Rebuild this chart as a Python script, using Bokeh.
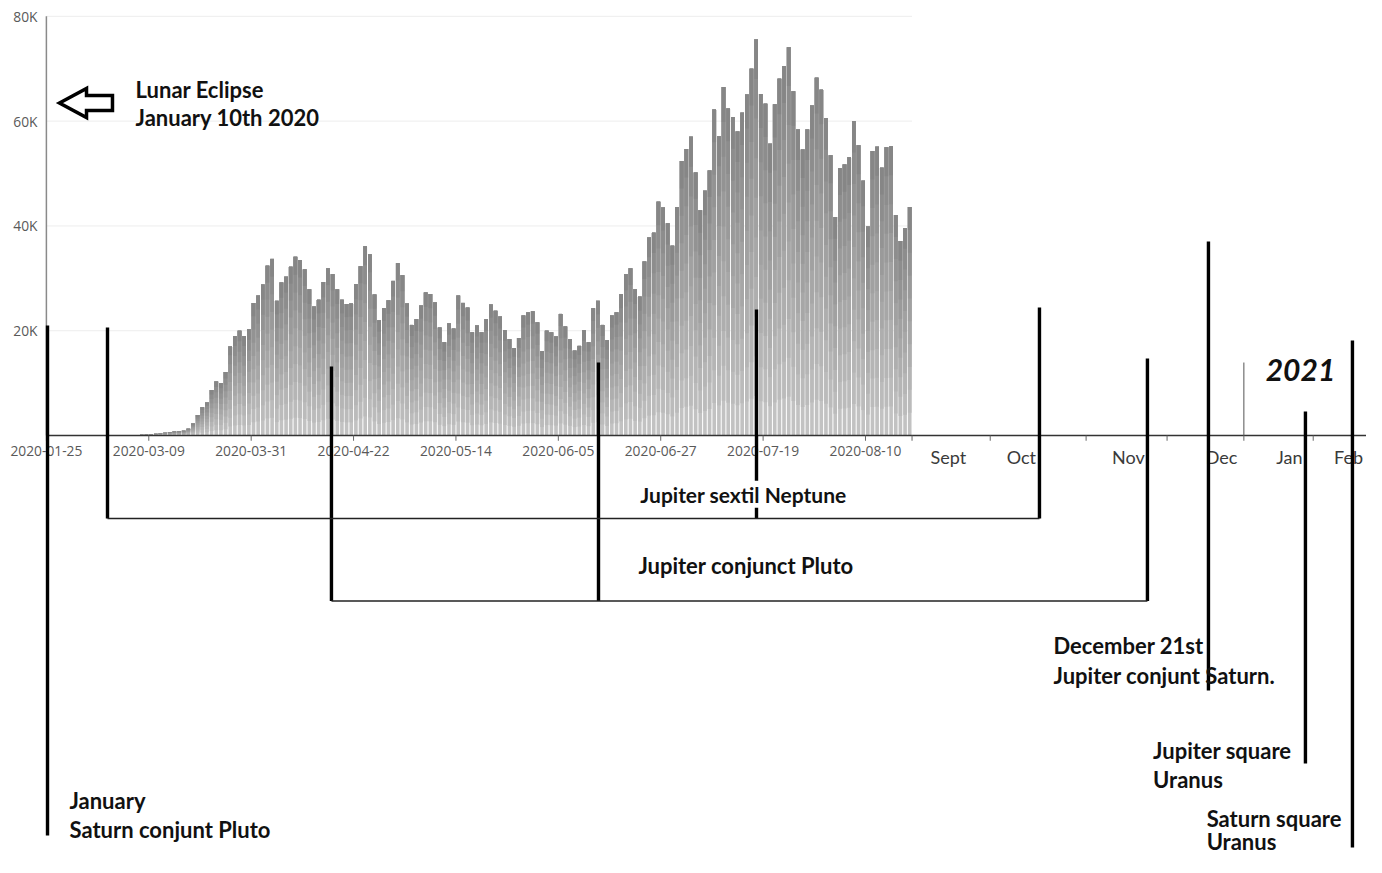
import numpy as np
from bokeh.plotting import figure
from bokeh.models import Range1d, ColumnDataSource
from bokeh.core.properties import value
from bokeh.embed import file_html
from bokeh.resources import INLINE

# ---------------- data ----------------
tick_labels = ["2020-01-25", "2020-03-09", "2020-03-31", "2020-04-22", "2020-05-14",
               "2020-06-05", "2020-06-27", "2020-07-19", "2020-08-10"]
tick_every = 22          # categories between labelled ticks
n_categories = 186       # categories on the daily axis
first_bar = 19           # first category that carries a bar

# daily values, thousands
cases_k = [
    0.1, 0.15, 0.2, 0.25, 0.35, 0.45, 0.55, 0.65, 0.75, 0.8, 0.9, 1.3,
    2.3,
    3.9, 5.4, 6.3, 8.7, 10.3, 10.0, 12.1, 17.0, 19.0, 20.0, 19.0, 20.3, 25.3, 26.7,
    28.8, 32.4, 33.7, 25.7, 29.2, 30.3, 32.2, 34.1, 33.5, 31.7, 27.9, 24.6, 25.9,
    29.3, 31.9, 30.8, 27.9, 25.9, 25.1, 25.2, 28.9, 32.3, 36.1, 34.6, 26.9, 22.0,
    24.3, 25.8, 29.5, 32.9, 30.6, 25.2, 21.1, 22.2, 24.8, 27.3, 27.0, 25.4,
    20.6, 17.8, 21.4, 20.4, 26.7, 25.3, 24.4, 19.7, 21.0, 19.7,
    22.2, 25.0, 23.8, 22.7, 20.1, 18.4, 16.7, 18.6, 22.9, 23.5,
    23.7, 21.6, 16.1, 20.0, 19.7, 18.9, 23.2, 20.8, 18.4, 16.2,
    17.1, 20.1, 17.8, 24.3, 25.7, 21.1, 18.2, 22.9, 23.5, 27.0,
    30.8, 31.9, 27.9, 26.5, 33.2, 37.8, 38.7, 44.6, 43.5, 40.5,
    36.2, 43.6, 52.4, 54.7, 57.0, 50.2, 43.0, 46.7, 50.6, 62.2,
    57.1, 66.5, 62.4, 60.8, 58.0, 61.6, 65.1, 70.0, 75.6, 65.2,
    63.3, 55.7, 63.2, 68.1, 70.5, 74.1, 65.7, 58.4, 54.6, 58.4,
    63.0, 68.3, 66.0, 60.6, 53.5, 41.7, 51.0, 51.7, 53.1, 60.0,
    55.4, 48.6, 39.9, 54.3, 55.1, 51.1, 55.0, 55.2, 42.1, 37.1, 39.6, 43.6,
]

y_ticks = [20000, 40000, 60000, 80000]
y_tick_labels = ["20K", "40K", "60K", "80K"]

month_labels = ["Sept", "Oct", "Nov", "Dec", "Jan", "Feb"]
year_label = "2021"

# ---------------- annotation layout (axis units: category, value) ----------------
month_label_x = [193.8, 209.5, 232.5, 252.5, 267.1, 279.8]
month_tick_x = [202.8, 223.4, 240.8, 257.3, 272.2]
axis_end = 283.7
year_sep_x, year_sep_top = 257.3, 13930

# vertical event lines: (x, top, bottom)
event_lines = [
    (0.24, 21000, -76340),      # Saturn conjunct Pluto
    (13.13, 20600, -15840),     # Jupiter sextil Neptune bracket
    (152.58, 24050, -15840),
    (213.38, 24430, -15840),
    (61.25, 13170, -31590),     # Jupiter conjunct Pluto bracket
    (118.63, 13930, -31590),
    (236.58, 14690, -31590),
    (249.69, 37020, -48660),    # Jupiter conjunct Saturn
    (270.53, 4580, -62600),     # Jupiter square Uranus
    (280.63, 18130, -78630),    # Saturn square Uranus
]
# horizontal bracket lines: (x0, x1, y)
bracket_lines = [(13.13, 213.38, -15840), (61.25, 236.58, -31590)]

notes = ["Lunar Eclipse", "January 10th 2020", "Jupiter conjunct Pluto",
         "December 21st", "Jupiter conjunt Saturn.", "Jupiter square", "Uranus",
         "Saturn square", "Uranus", "January", "Saturn conjunt Pluto"]
notes_x = [19.17, 19.17, 127.2, 216.4, 216.4, 237.8, 237.8, 249.3, 249.3, 4.96, 4.96]
notes_y = [64560, 59160, -26430, -41600, -47330, -61700, -67100, -74600, -79000, -71180, -76720]
sextil_note = "Jupiter sextil Neptune"
sextil_xy = (127.4, -12690)

arrow_x = [2.81, 8.62, 8.62, 14.2, 14.2, 8.62, 8.62]
arrow_y = [63450, 66220, 64890, 64890, 62020, 62020, 60690]

# ---------------- figure ----------------
p = figure(width=1366, height=857, x_range=Range1d(-9.862, 283.65),
           y_range=Range1d(-80530, 83020), x_axis_type=None, y_axis_type=None,
           toolbar_location=None, output_backend="svg", min_border=0, title=None)
p.outline_line_color = None
p.background_fill_color = "white"
p.border_fill_color = "white"

# grid lines
p.segment(x0=[0] * len(y_ticks), x1=[n_categories] * len(y_ticks), y0=y_ticks, y1=y_ticks,
          line_color="#ededed", line_width=1)
# left value axis line
p.segment(x0=[0], x1=[0], y0=[0], y1=[max(y_ticks)], line_color="#8a8a8a", line_width=1.5)

# bars with vertical gradient (light bottom, dark top)
vals = np.array(cases_k) * 1000.0
xs = first_bar + np.arange(len(vals)) + 0.5
N = 10
c0 = np.array([0xc2, 0xc2, 0xc2])
c1 = np.array([0x86, 0x86, 0x86])
for k in range(N):
    t = k / (N - 1)
    c = (c0 + (c1 - c0) * t).round().astype(int)
    col = "#%02x%02x%02x" % tuple(c)
    src = ColumnDataSource(dict(x=xs, bottom=vals * k / N, top=vals))
    p.vbar(x="x", width=0.78, bottom="bottom", top="top", source=src,
           fill_color=col, line_color=None)

# category axis line + ticks
p.segment(x0=[0], x1=[axis_end], y0=[0], y1=[0], line_color="#333333", line_width=1.3)
tick_pos = [i * tick_every for i in range(len(tick_labels))] + [n_categories] + month_tick_x
p.segment(x0=tick_pos, x1=tick_pos, y0=[0] * len(tick_pos), y1=[-1000] * len(tick_pos),
          line_color="#666666", line_width=1)

# date labels
p.text(x=[i * tick_every for i in range(len(tick_labels))], y=[-4000] * len(tick_labels),
       text=tick_labels, text_font=value("Open Sans"), text_font_size=value("13.8px"),
       text_color="#595959", text_align="center", text_baseline="alphabetic", y_offset=-5.1)
# value labels
p.text(x=[-1.91] * len(y_ticks), y=y_ticks, text=y_tick_labels, text_font=value("Open Sans"),
       text_font_size=value("13.8px"), text_color="#595959", text_align="right",
       text_baseline="middle")
# month labels
p.text(x=month_label_x, y=[-5340] * len(month_labels), text=month_labels,
       text_font=value("Lato"), text_font_size=value("18px"), text_color="#3a3a3a",
       text_align="center", text_baseline="alphabetic", y_offset=-6.7)
# year separator + label
p.segment(x0=[year_sep_x], x1=[year_sep_x], y0=[0], y1=[year_sep_top],
          line_color="#555555", line_width=1)
p.text(x=[269.47], y=[10500], text=[year_label], text_font=value("Lato"),
       text_font_size=value("30px"), text_font_style="bold italic", text_color="#111111",
       text_align="center", text_baseline="alphabetic", y_offset=-11)

# event lines
p.segment(x0=[e[0] for e in event_lines], x1=[e[0] for e in event_lines],
          y0=[e[1] for e in event_lines], y1=[e[2] for e in event_lines],
          line_color="black", line_width=3.4)
p.segment(x0=[b[0] for b in bracket_lines], x1=[b[1] for b in bracket_lines],
          y0=[b[2] for b in bracket_lines], y1=[b[2] for b in bracket_lines],
          line_color="#222222", line_width=1.5)

# arrow
p.patch(x=arrow_x, y=arrow_y, fill_color="white", line_color="black", line_width=3.5,
        line_join="miter")

# notes
p.text(x=notes_x, y=notes_y, text=notes, text_font=value("Lato"),
       text_font_size=value("22px"), text_font_style="bold", text_color="#111111",
       text_align="left", text_baseline="alphabetic", y_offset=-8.1)
p.text(x=[sextil_xy[0]], y=[sextil_xy[1]], text=[sextil_note], text_font=value("Lato"),
       text_font_size=value("21px"), text_font_style="bold", text_color="#111111",
       text_align="left", text_baseline="alphabetic", y_offset=-7.8,
       background_fill_color="white", padding=1)

open("out.html", "w").write(file_html(p, INLINE))
